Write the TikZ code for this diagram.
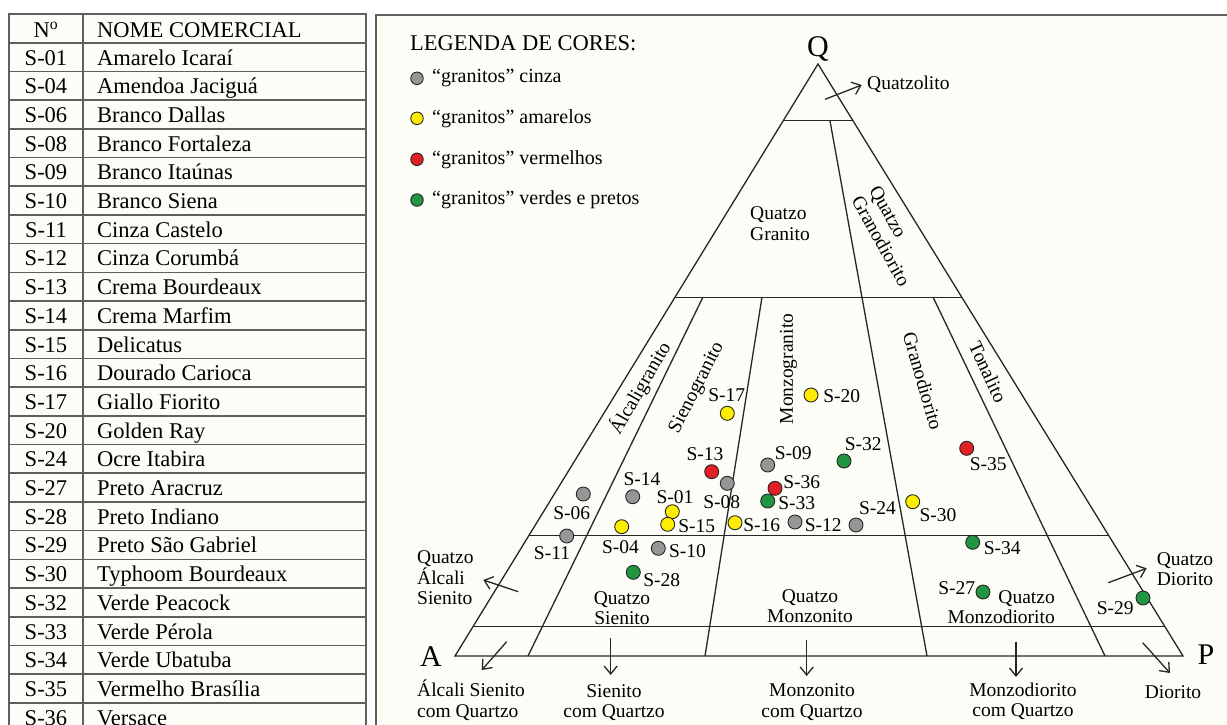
\documentclass[tikz,border=0pt]{standalone}
\usepackage{fontspec}
\setmainfont{Liberation Serif}
\usepackage{tikz}
\usetikzlibrary{calc, arrows.meta, positioning}

\definecolor{papel}{RGB}{253,253,248}
\definecolor{traco}{RGB}{95,95,95}
\definecolor{cinza}{RGB}{150,150,150}
\definecolor{amarelo}{RGB}{255,237,0}
\definecolor{vermelho}{RGB}{224,32,36}
\definecolor{verde}{RGB}{32,150,66}

\begin{document}
\begin{tikzpicture}[
    x=1pt, y=-1pt,
    moldura/.style={draw=traco, line width=1.6pt},
    linha/.style={draw=black!85, line width=1.3pt},
    seta/.style={draw=black!85, line width=1.3pt, -{Straight Barb[length=8pt, width=13pt]}},
    amostra/.style={circle, draw=black!85, line width=0.9pt, minimum size=14pt, inner sep=0pt},
    rotulo/.style={font=\fontsize{19.5}{20.5}\selectfont, inner sep=0pt},
    campo/.style={font=\fontsize{19.5}{20.5}\selectfont, inner sep=0pt, align=center},
    vertice/.style={font=\fontsize{30}{30}\selectfont, inner sep=0pt, anchor=base},
    celula/.style={font=\fontsize{22.5}{24}\selectfont, inner sep=0pt, anchor=base},
    legenda/.style={font=\fontsize{20}{22}\selectfont, inner sep=0pt, anchor=west}
]
    \useasboundingbox (0,0) rectangle (1227,724);
    \clip (0,0) rectangle (1227,724);

    \fill [papel] (9,14) rectangle (366,740);
    \fill [papel] (376,14.7) rectangle (1240,740);
    \draw [moldura] (9,14) rectangle (366,731.5);
    \draw [moldura] (83,14) -- (83,731.5);
    \foreach \k in {1,...,24}
        \draw [moldura] (9,{14+28.7*\k}) -- (366,{14+28.7*\k});
    \draw [moldura] (376,740) -- (376,14.7) -- (1240,14.7);

    \node [celula] (num) at (46,37.5) {N\textsuperscript{o}};
    \node [celula, anchor=base west] (nomecom) at (97,37.5) {NOME COMERCIAL};
    \foreach \cod/\nome [count=\i] in {S-01/Amarelo Icaraí, S-04/Amendoa Jaciguá, S-06/Branco Dallas,
        S-08/Branco Fortaleza, S-09/Branco Itaúnas, S-10/Branco Siena, S-11/Cinza Castelo,
        S-12/Cinza Corumbá, S-13/Crema Bourdeaux, S-14/Crema Marfim, S-15/Delicatus,
        S-16/Dourado Carioca, S-17/Giallo Fiorito, S-20/Golden Ray, S-24/Ocre Itabira,
        S-27/Preto Aracruz, S-28/Preto Indiano, S-29/Preto São Gabriel, S-30/Typhoom Bourdeaux,
        S-32/Verde Peacock, S-33/Verde Pérola, S-34/Verde Ubatuba, S-35/Vermelho Brasília,
        S-36/Versace}
    {
        \node [celula] (cod\i) at (46,{28.35+28.7*\i+8}) {\cod};
        \node [celula, anchor=base west] (nome\i) at (97,{28.35+28.7*\i+8}) {\nome};
    }

    \node [celula, anchor=base west] (leg) at (410,50.7) {LEGENDA DE CORES:};
    \foreach \cor/\txt/\yy [count=\i] in {cinza/cinza/78.3, amarelo/amarelos/118.3,
        vermelho/vermelhos/159.3, verde/verdes e pretos/200}
    {
        \node [amostra, fill=\cor, minimum size=12.5pt] (leg\i) at (417,\yy) {};
        \node [legenda] (legtxt\i) at (432,\yy) {“granitos” \txt};
    }

    \coordinate (A) at (455,656);
    \coordinate (P) at (1183,656);
    \coordinate (Q) at (818,64);
    \draw [linha] (A) -- (Q) -- (P) -- cycle;
    \foreach \f in {0.904, 0.606, 0.203, 0.05}
        \draw [linha] ($(A)!\f!(Q)$) -- ($(P)!\f!(Q)$);
    \draw [linha] (703,297) -- (528,656);
    \draw [linha] (762,297) -- (705,656);
    \draw [linha] (830,121) -- (927,656);
    \draw [linha] (933,297) -- (1105,656);

    \node [vertice] (q) at (818,56) {Q};
    \node [vertice] (a) at (431,666) {A};
    \node [vertice] (p) at (1206,664) {P};

    \node [rotulo, anchor=west] (quatzolito) at (867,84.3) {Quatzolito};
    \node [campo, align=left, anchor=west] (qgranito) at (750,223.5) {Quatzo\\Granito};
    \node [campo, align=left, rotate=-61] (qgranodiorito) at (890,236) {Quatzo\\Granodiorito};
    \node [rotulo, rotate=60] (alcaligranito) at (640,388) {Álcaligranito};
    \node [rotulo, rotate=63] (sienogranito) at (697,388) {Sienogranito};
    \node [rotulo, rotate=90] (monzogranito) at (788.5,369) {Monzogranito};
    \node [rotulo, rotate=-74] (granodiorito) at (923,381) {Granodiorito};
    \node [rotulo, rotate=-65] (tonalito) at (988,372) {Tonalito};
    \node [campo, align=left, anchor=west] (qasienito) at (417,578) {Quatzo\\Álcali\\Sienito};
    \node [campo] (qsienito) at (622,608) {Quatzo\\Sienito};
    \node [campo] (qmonzonito) at (810,606) {Quatzo\\Monzonito};
    \node [campo, align=right, anchor=east] (qmonzodiorito) at (1055,607) {Quatzo\\Monzodiorito};
    \node [campo] (qdiorito) at (1185,569) {Quatzo\\Diorito};
    \node [campo, align=left, anchor=west] (asienitoq) at (417,700.3) {Álcali Sienito\\com Quartzo};
    \node [campo] (sienitoq) at (614,702.7) {Sienito\\com Quartzo};
    \node [campo] (monzonitoq) at (812,702) {Monzonito\\com Quartzo};
    \node [campo] (monzodioritoq) at (1023,701.5) {Monzodiorito\\com Quartzo};
    \node [rotulo] (diorito) at (1173,691.7) {Diorito};

    \coordinate (qz0) at (825,99.3);     \coordinate (qz1) at (861.7,85);
    \coordinate (qas0) at (518.3,591.7); \coordinate (qas1) at (483.3,580);
    \coordinate (asq0) at (506.7,641.7); \coordinate (asq1) at (481.7,670);
    \coordinate (sq0) at (610.7,638.3);  \coordinate (sq1) at (610.7,675);
    \coordinate (mq0) at (806.7,640);    \coordinate (mq1) at (806.7,676);
    \coordinate (mdq0) at (1016,641.7);  \coordinate (mdq1) at (1016,677);
    \coordinate (d0) at (1142.7,642.7);  \coordinate (d1) at (1170,673);
    \coordinate (qd0) at (1108.3,582.7); \coordinate (qd1) at (1146.7,568.3);
    \draw [seta] (qz0) -- (qz1);
    \draw [seta] (qas0) -- (qas1);
    \draw [seta] (asq0) -- (asq1);
    \draw [seta] (sq0) -- (sq1);
    \draw [seta] (mq0) -- (mq1);
    \draw [seta] (mdq0) -- (mdq1);
    \draw [seta] (d0) -- (d1);
    \draw [seta] (qd0) -- (qd1);

    \node [amostra, fill=cinza] (s06) at (583.3,494) {};       \node [rotulo] (s06r) at (571.7,513.3) {S-06};
    \node [amostra, fill=cinza] (s11) at (566.7,536) {};       \node [rotulo] (s11r) at (552,553.3) {S-11};
    \node [amostra, fill=cinza] (s14) at (632.7,496.7) {};     \node [rotulo] (s14r) at (642,479) {S-14};
    \node [amostra, fill=cinza] (s10) at (658.3,548.3) {};     \node [rotulo] (s10r) at (687.5,550.7) {S-10};
    \node [amostra, fill=cinza] (s08) at (727.3,483.3) {};     \node [rotulo] (s08r) at (721.7,501.7) {S-08};
    \node [amostra, fill=cinza] (s09) at (767.7,465) {};       \node [rotulo] (s09r) at (793.3,452.7) {S-09};
    \node [amostra, fill=cinza] (s12) at (795,522) {};         \node [rotulo] (s12r) at (823.3,525) {S-12};
    \node [amostra, fill=cinza] (s24) at (856,525) {};         \node [rotulo] (s24r) at (877.5,507.7) {S-24};
    \node [amostra, fill=amarelo] (s04) at (621.7,526.7) {};   \node [rotulo] (s04r) at (620.5,546.7) {S-04};
    \node [amostra, fill=amarelo] (s01) at (672.3,511.7) {};   \node [rotulo] (s01r) at (675,497.3) {S-01};
    \node [amostra, fill=amarelo] (s15) at (667.7,524.3) {};   \node [rotulo] (s15r) at (696.7,526) {S-15};
    \node [amostra, fill=amarelo] (s16) at (735,522.7) {};     \node [rotulo] (s16r) at (761.7,525) {S-16};
    \node [amostra, fill=amarelo] (s17) at (727.3,413.3) {};   \node [rotulo] (s17r) at (726.7,395) {S-17};
    \node [amostra, fill=amarelo] (s20) at (811,395) {};       \node [rotulo] (s20r) at (841.7,396) {S-20};
    \node [amostra, fill=amarelo] (s30) at (912.7,501.7) {};   \node [rotulo] (s30r) at (938,515) {S-30};
    \node [amostra, fill=vermelho] (s13) at (711.7,471.7) {};  \node [rotulo] (s13r) at (705,454) {S-13};
    \node [amostra, fill=vermelho] (s36) at (775,488.3) {};    \node [rotulo] (s36r) at (801.7,481.7) {S-36};
    \node [amostra, fill=vermelho] (s35) at (966.7,448.3) {};  \node [rotulo] (s35r) at (988.3,464) {S-35};
    \node [amostra, fill=verde] (s28) at (633.3,572.3) {};     \node [rotulo] (s28r) at (661.7,580) {S-28};
    \node [amostra, fill=verde] (s33) at (767.7,501) {};       \node [rotulo] (s33r) at (796.7,503.3) {S-33};
    \node [amostra, fill=verde] (s32) at (844,461) {};         \node [rotulo] (s32r) at (863.3,444.3) {S-32};
    \node [amostra, fill=verde] (s34) at (972.7,542.3) {};     \node [rotulo] (s34r) at (1002.3,548.3) {S-34};
    \node [amostra, fill=verde] (s27) at (983,592) {};         \node [rotulo] (s27r) at (956.7,588.3) {S-27};
    \node [amostra, fill=verde] (s29) at (1143,598) {};        \node [rotulo] (s29r) at (1115.3,608.3) {S-29};
\end{tikzpicture}
\end{document}
